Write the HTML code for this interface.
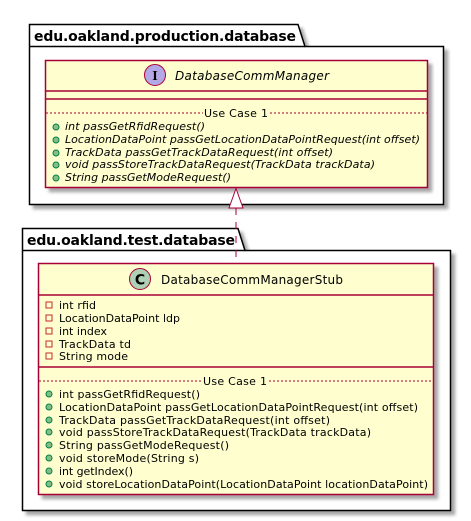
<!DOCTYPE html>
<html><head><meta charset="utf-8"><style>
html,body{margin:0;padding:0;background:#fff;width:471px;height:521px;overflow:hidden}
text{font-family:"DejaVu Sans","Liberation Sans",sans-serif;fill:#000}
.m{font-size:11px}
.i{font-style:italic}
</style></head><body>
<svg width="471" height="521" viewBox="0 0 471 521" xmlns="http://www.w3.org/2000/svg">
<defs><filter id="sh" x="-5%" y="-5%" width="115%" height="115%"><feGaussianBlur in="SourceAlpha" stdDeviation="1.5"/><feOffset dx="4" dy="4"/><feComponentTransfer><feFuncA type="linear" slope="0.35"/></feComponentTransfer><feMerge><feMergeNode/><feMergeNode in="SourceGraphic"/></feMerge></filter></defs>

<!-- package 1 -->
<g filter="url(#sh)">
<path d="M29.5,24.5 L298,24.5 L305,46.5 L443.5,46.5 L443.5,204.5 L29.5,204.5 Z" fill="#fff" stroke="#000" stroke-width="1.5"/>
</g>
<line x1="29.5" y1="46.5" x2="305" y2="46.5" stroke="#000" stroke-width="1.5"/>
<text x="34" y="41" style="font-size:14px;font-weight:bold" textLength="262">edu.oakland.production.database</text>

<g filter="url(#sh)"><rect x="45.5" y="60.5" width="382" height="127" fill="#FEFECE" stroke="#A80036" stroke-width="1.5"/></g>
<line x1="45.5" y1="91" x2="427.5" y2="91" stroke="#A80036" stroke-width="1.5"/>
<line x1="45.5" y1="99" x2="427.5" y2="99" stroke="#A80036" stroke-width="1.5"/>
<circle cx="155" cy="75" r="10.5" fill="#B4A7E5" stroke="#A80036" stroke-width="1"/>
<text x="155" y="80" text-anchor="middle" style="font-size:14px;font-weight:bold;font-family:'Liberation Serif',serif">I</text>
<text x="175" y="80" class="i" style="font-size:12px" textLength="154">DatabaseCommManager</text>
<line x1="46" y1="113" x2="203" y2="113" stroke="#A80036" stroke-dasharray="2,2" stroke-width="1"/>
<line x1="270" y1="113" x2="427" y2="113" stroke="#A80036" stroke-dasharray="2,2" stroke-width="1"/>
<text x="204" y="117" class="m" textLength="64">Use Case 1</text>
<g fill="#84BE84" stroke="#038048" stroke-width="1">
<circle cx="56" cy="127" r="3"/><circle cx="56" cy="140" r="3"/><circle cx="56" cy="153" r="3"/><circle cx="56" cy="165" r="3"/><circle cx="56" cy="178" r="3"/></g>
<text x="65" y="130" class="m i" textLength="140">int passGetRfidRequest()</text>
<text x="65" y="143" class="m i" textLength="355">LocationDataPoint passGetLocationDataPointRequest(int offset)</text>
<text x="65" y="156" class="m i" textLength="268">TrackData passGetTrackDataRequest(int offset)</text>
<text x="65" y="168" class="m i" textLength="310">void passStoreTrackDataRequest(TrackData trackData)</text>
<text x="65" y="181" class="m i" textLength="166">String passGetModeRequest()</text>

<!-- package 2 -->
<g filter="url(#sh)">
<path d="M22.5,228.5 L238,228.5 L245,250.5 L450.5,250.5 L450.5,510.5 L22.5,510.5 Z" fill="#fff" stroke="#000" stroke-width="1.5"/>
</g>
<line x1="22.5" y1="250.5" x2="245" y2="250.5" stroke="#000" stroke-width="1.5"/>
<text x="27" y="245" style="font-size:14px;font-weight:bold" textLength="208">edu.oakland.test.database</text>

<!-- connector -->
<line x1="236" y1="208" x2="236" y2="262" stroke="#A80036" stroke-width="1" stroke-dasharray="7,7"/>
<polygon points="236,188.5 229,208 243,208" fill="#fff" stroke="#A80036" stroke-width="1"/>

<g filter="url(#sh)"><rect x="38.5" y="263.5" width="395" height="231" fill="#FEFECE" stroke="#A80036" stroke-width="1.5"/></g>
<line x1="38.5" y1="295" x2="433.5" y2="295" stroke="#A80036" stroke-width="1.5"/>
<line x1="38.5" y1="367" x2="433.5" y2="367" stroke="#A80036" stroke-width="1.5"/>
<circle cx="140" cy="279" r="10.5" fill="#ADD1B2" stroke="#A80036" stroke-width="1"/>
<text x="140" y="284.5" text-anchor="middle" style="font-size:14px;font-weight:bold">C</text>
<text x="161" y="284" style="font-size:12px" textLength="182">DatabaseCommManagerStub</text>
<g fill="none" stroke="#C82930" stroke-width="1">
<rect x="46" y="302" width="6" height="6"/><rect x="46" y="315" width="6" height="6"/><rect x="46" y="328" width="6" height="6"/><rect x="46" y="341" width="6" height="6"/><rect x="46" y="353" width="6" height="6"/></g>
<text x="59" y="309" class="m" textLength="37">int rfid</text>
<text x="59" y="322" class="m" textLength="121">LocationDataPoint ldp</text>
<text x="59" y="335" class="m" textLength="48">int index</text>
<text x="59" y="348" class="m" textLength="72">TrackData td</text>
<text x="59" y="360" class="m" textLength="69">String mode</text>
<line x1="39" y1="381" x2="202" y2="381" stroke="#A80036" stroke-dasharray="2,2" stroke-width="1"/>
<line x1="269" y1="381" x2="433" y2="381" stroke="#A80036" stroke-dasharray="2,2" stroke-width="1"/>
<text x="203" y="385" class="m" textLength="64">Use Case 1</text>
<g fill="#84BE84" stroke="#038048" stroke-width="1">
<circle cx="49" cy="394" r="3"/><circle cx="49" cy="407" r="3"/><circle cx="49" cy="420" r="3"/><circle cx="49" cy="432" r="3"/><circle cx="49" cy="445" r="3"/><circle cx="49" cy="458" r="3"/><circle cx="49" cy="471" r="3"/><circle cx="49" cy="484" r="3"/></g>
<text x="59" y="398" class="m" textLength="141">int passGetRfidRequest()</text>
<text x="59" y="411" class="m" textLength="359">LocationDataPoint passGetLocationDataPointRequest(int offset)</text>
<text x="59" y="424" class="m" textLength="271">TrackData passGetTrackDataRequest(int offset)</text>
<text x="59" y="436" class="m" textLength="312">void passStoreTrackDataRequest(TrackData trackData)</text>
<text x="59" y="449" class="m" textLength="170">String passGetModeRequest()</text>
<text x="59" y="462" class="m" textLength="140">void storeMode(String s)</text>
<text x="59" y="475" class="m" textLength="74">int getIndex()</text>
<text x="59" y="488" class="m" textLength="369">void storeLocationDataPoint(LocationDataPoint locationDataPoint)</text>
</svg>
</body></html>
